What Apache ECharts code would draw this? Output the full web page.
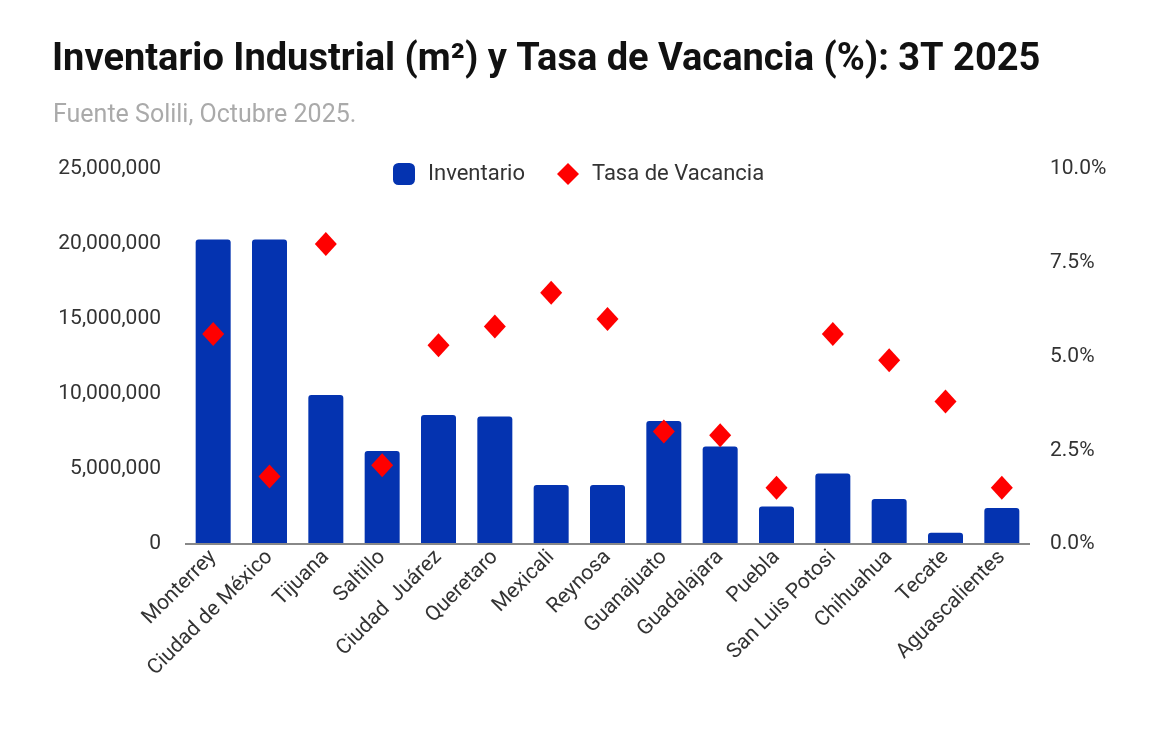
<!DOCTYPE html>
<html>
<head>
<meta charset="utf-8">
<script src="https://cdn.jsdelivr.net/npm/echarts@6/dist/echarts.min.js"></script>
<style>
html,body{margin:0;padding:0;background:#fff;}
#main{width:1154px;height:732px;}
</style>
</head>
<body>
<div id="main"></div>
<script>
const categories = ['Monterrey','Ciudad de México','Tijuana','Saltillo','Ciudad  Juárez','Queretaro','Mexicali','Reynosa','Guanajuato','Guadalajara','Puebla','San Luis Potosi','Chihuahua','Tecate','Aguascalientes'];
const inventario = [20300000,20300000,9930000,6200000,8600000,8500000,3930000,3930000,8200000,6500000,2500000,4700000,3000000,750000,2400000];
const vacancia = [5.6,1.8,8.0,2.1,5.3,5.8,6.7,6.0,3.0,2.9,1.5,5.6,4.9,3.8,1.5];
const leftTicks = [0,5000000,10000000,15000000,20000000,25000000];
const rightTicks = [0,2.5,5,7.5,10];

const chart = echarts.init(document.getElementById('main'));
const font = 'Roboto, "Noto Sans", sans-serif';
chart.setOption({
  animation:false,
  backgroundColor:'#fff',
  title:[
    {text:'Inventario Industrial (m²) y Tasa de Vacancia (%): 3T 2025', left:47, top:36,
     textStyle:{fontFamily:font,fontWeight:'bold',fontSize:38,color:'#111'}},
    {text:'Fuente Solili, Octubre 2025.', left:48, top:98,
     textStyle:{fontFamily:font,fontWeight:'normal',fontSize:25,color:'#aaa'}}
  ],
  legend:{
    left:388, top:158, itemGap:32, itemWidth:22, itemHeight:22,
    textStyle:{fontFamily:font,fontSize:22,color:'#333',padding:[0,0,0,8]},
    data:[{name:'Inventario',icon:'roundRect'},{name:'Tasa de Vacancia',icon:'diamond'}]
  },
  grid:{left:185,right:124,top:169,bottom:188,containLabel:false},
  xAxis:{
    type:'category', data:categories,
    axisLine:{show:false},
    axisTick:{show:false},
    axisLabel:{rotate:45, interval:0, fontFamily:font, fontSize:21, color:'#333', margin:10}
  },
  yAxis:[
    {type:'value',min:leftTicks[0],max:leftTicks[leftTicks.length-1],interval:5000000,
     splitLine:{show:false},axisLine:{show:false},axisTick:{show:false},
     axisLabel:{fontFamily:font,fontSize:21,color:'#333',margin:24,
       formatter:v=>v.toLocaleString('en-US')}},
    {type:'value',min:rightTicks[0],max:rightTicks[rightTicks.length-1],interval:2.5,
     splitLine:{show:false},axisLine:{show:false},axisTick:{show:false},
     axisLabel:{fontFamily:font,fontSize:21,color:'#333',margin:20,
       formatter:v=>v.toFixed(1)+'%'}}
  ],
  series:[
    {name:'Inventario',type:'bar',data:inventario,barWidth:35,yAxisIndex:0,
     itemStyle:{color:'#0433B0',borderRadius:[3,3,0,0]},
     markLine:{silent:true,symbol:'none',label:{show:false},
       lineStyle:{color:'#888',width:2,type:'solid'},data:[{yAxis:0}]}},
    {name:'Tasa de Vacancia',type:'scatter',data:vacancia,yAxisIndex:1,
     symbol:'diamond',symbolSize:[22,24],itemStyle:{color:'#ff0000',opacity:1},z:5}
  ]
});
</script>
</body>
</html>
